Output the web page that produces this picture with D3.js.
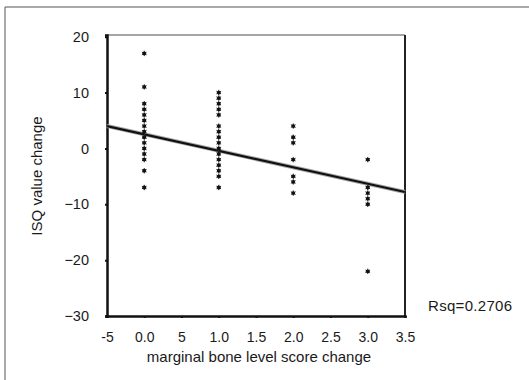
<!DOCTYPE html>
<html>
<head>
<meta charset="utf-8">
<script src="https://cdn.jsdelivr.net/npm/d3@7"></script>
<style>
  html, body { margin: 0; padding: 0; background: #fff; }
  svg { display: block; }
  text { font-family: "Liberation Sans", Arial, sans-serif; fill: #1a1a1a; }
</style>
</head>
<body>
<svg id="chart" width="529" height="380"></svg>
<script>
// ---- data ----
const xTickValues = [-0.5, 0, 0.5, 1.0, 1.5, 2.0, 2.5, 3.0, 3.5];
const xTickLabels = ["-5", "0.0", "5", "1.0", "1.5", "2.0", "2.5", "3.0", "3.5"];
const yTickValues = [-30, -20, -10, 0, 10, 20];
const scoreChange0 = [17, 11, 8, 7, 6, 5, 4, 3, 2, 1, 0, -1, -2, -4, -7];
const scoreChange1 = [10, 9, 8, 7, 6, 4, 3, 2, 1, 0, -1, -2, -3, -4, -5, -7];
const scoreChange2 = [4, 2, 1, -2, -5, -6, -8];
const scoreChange3 = [-2, -7, -8, -9, -10, -22];
const fitX = [-0.5, 3.5];
const fitY = [4.0, -7.8];
const rsqLabel = "Rsq=0.2706";
const xTitle = "marginal bone level score change";
const yTitle = "ISQ value change";

const points = [].concat(
  scoreChange0.map(v => ({x: 0, y: v})),
  scoreChange1.map(v => ({x: 1, y: v})),
  scoreChange2.map(v => ({x: 2, y: v})),
  scoreChange3.map(v => ({x: 3, y: v}))
);

// ---- layout ----
const svg = d3.select("#chart");
const pLeft = 107, pRight = 405, pTop = 35, pBottom = 316;
const x = d3.scaleLinear().domain([-0.5, 3.5]).range([pLeft, pRight]);
const y = d3.scaleLinear().domain([-30, 20.3]).range([pBottom, pTop]);

// outer frame
svg.append("line").attr("x1", 5).attr("x2", 5).attr("y1", 7).attr("y2", 380)
  .attr("stroke", "#555").attr("stroke-width", 1);
svg.append("line").attr("x1", 5).attr("x2", 529).attr("y1", 7).attr("y2", 7)
  .attr("stroke", "#555").attr("stroke-width", 1);

// plot frame
svg.append("line").attr("x1", pLeft).attr("x2", pRight).attr("y1", pTop).attr("y2", pTop)
  .attr("stroke", "#888").attr("stroke-width", 1.5);
svg.append("line").attr("x1", pRight).attr("x2", pRight).attr("y1", pTop).attr("y2", pBottom)
  .attr("stroke", "#222").attr("stroke-width", 2);

// axes
const xAxis = d3.axisBottom(x).tickValues(xTickValues)
  .tickFormat((d, i) => xTickLabels[i]).tickSize(2).tickPadding(14);
const gx = svg.append("g").attr("transform", `translate(0,${pBottom})`).call(xAxis);
gx.select(".domain").attr("stroke", "#111").attr("stroke-width", 2.5);
gx.selectAll(".tick line").attr("stroke", "#111").attr("stroke-width", 2);
gx.selectAll(".tick text").attr("font-size", 14);

const yAxis = d3.axisLeft(y).tickValues(yTickValues).tickSize(2).tickPadding(16);
const gy = svg.append("g").attr("transform", `translate(${pLeft},0)`).call(yAxis);
gy.select(".domain").attr("stroke", "#111").attr("stroke-width", 2.5);
gy.selectAll(".tick line").attr("stroke", "#111").attr("stroke-width", 2);
gy.selectAll(".tick text").attr("font-size", 14.5);
svg.selectAll("g").attr("font-family", null);
svg.selectAll(".tick text").attr("fill", "#1a1a1a");

// regression line
const fitLine = d3.line().x(d => x(d[0])).y(d => y(d[1]));
const fitData = fitX.map((v, i) => [v, fitY[i]]);
svg.append("path").datum(fitData).attr("d", fitLine)
  .attr("fill", "none").attr("stroke", "#aaa").attr("stroke-width", 4);
svg.append("path").datum(fitData).attr("d", fitLine)
  .attr("fill", "none").attr("stroke", "#111").attr("stroke-width", 2.2);

// points
const star = d3.symbol().type(d3.symbolAsterisk).size(20);
const gp = svg.append("g");
gp.selectAll("path.pt").data(points).join("path")
  .attr("class", "pt")
  .attr("transform", d => `translate(${x(d.x)},${y(d.y)})`)
  .attr("d", star).attr("fill", "none").attr("stroke", "#333").attr("stroke-width", 1);
gp.selectAll("circle.pt").data(points).join("circle")
  .attr("class", "pt")
  .attr("cx", d => x(d.x)).attr("cy", d => y(d.y)).attr("r", 1.9).attr("fill", "#111");

// titles
svg.append("text").attr("x", 259).attr("y", 362).attr("text-anchor", "middle")
  .attr("font-size", 15).text(xTitle);
svg.append("text").attr("transform", "translate(42,176) rotate(-90)")
  .attr("text-anchor", "middle").attr("font-size", 15).text(yTitle);
svg.append("text").attr("x", 428).attr("y", 311).attr("font-size", 15)
  .attr("letter-spacing", 0.3).text(rsqLabel);
</script>
</body>
</html>
